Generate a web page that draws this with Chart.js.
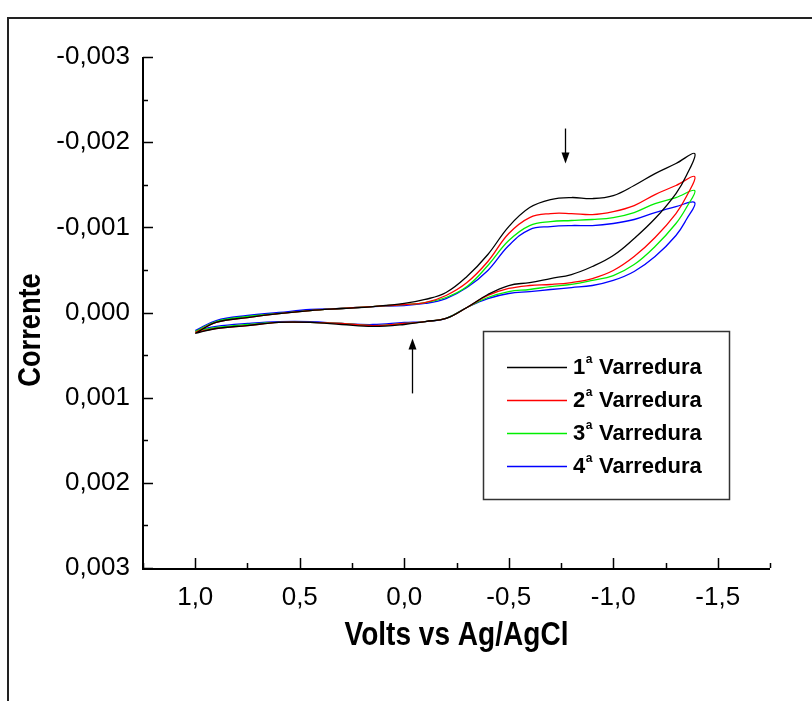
<!DOCTYPE html>
<html>
<head>
<meta charset="utf-8">
<script src="https://cdn.jsdelivr.net/npm/chart.js@4.4.1/dist/chart.umd.min.js"></script>
<style>
  html, body { margin: 0; padding: 0; background: #fff; }
  #wrap { width: 812px; height: 701px; position: relative; }
</style>
</head>
<body>
<div id="wrap"><canvas id="cvChart" width="812" height="701"></canvas></div>
<script>
// potential (V vs Ag/AgCl): forward scan 1.0 -> -1.39, then back to 1.0
const potentials = [
    1.0, 0.9, 0.75, 0.6, 0.45, 0.3, 0.15, 0.0, -0.1, -0.2, -0.3,
    -0.4, -0.5, -0.6, -0.7, -0.8, -0.9, -1.0, -1.1, -1.2, -1.3, -1.39,
    -1.35, -1.3, -1.2, -1.1, -1.0, -0.9, -0.8, -0.7, -0.6, -0.5, -0.4,
    -0.3, -0.2, -0.1, 0.0, 0.15, 0.3, 0.45, 0.6, 0.75, 0.9, 1.0
];

// current (A), one array per sweep
const sweep1 = [
    0.000246, 0.000117, 0.000059, 0.000012, -0.000023, -0.000047, -0.000070, -0.000106, -0.000153, -0.000235, -0.000423,
    -0.000681, -0.001009, -0.001232, -0.001326, -0.001350, -0.001338, -0.001373, -0.001491, -0.001631, -0.001749, -0.001866,
    -0.001608, -0.001397, -0.001103, -0.000869, -0.000669, -0.000540, -0.000446, -0.000399, -0.000352, -0.000317, -0.000211,
    -0.000059, 0.000070, 0.000106, 0.000141, 0.000164, 0.000141, 0.000117, 0.000117, 0.000153, 0.000188, 0.000246
];
const sweep2 = [
    0.000235, 0.000117, 0.000059, 0.000012, -0.000023, -0.000047, -0.000070, -0.000094, -0.000117, -0.000200, -0.000352,
    -0.000599, -0.000927, -0.001115, -0.001162, -0.001162, -0.001150, -0.001185, -0.001256, -0.001385, -0.001491, -0.001596,
    -0.001362, -0.001162, -0.000880, -0.000657, -0.000493, -0.000399, -0.000352, -0.000329, -0.000317, -0.000282, -0.000200,
    -0.000059, 0.000070, 0.000106, 0.000129, 0.000153, 0.000129, 0.000117, 0.000117, 0.000153, 0.000188, 0.000235
];
const sweep3 = [
    0.000223, 0.000106, 0.000047, 0.000012, -0.000023, -0.000047, -0.000070, -0.000094, -0.000117, -0.000176, -0.000305,
    -0.000552, -0.000845, -0.001021, -0.001068, -0.001080, -0.001092, -0.001115, -0.001174, -0.001279, -0.001350, -0.001432,
    -0.001232, -0.001045, -0.000775, -0.000563, -0.000434, -0.000376, -0.000329, -0.000305, -0.000270, -0.000246, -0.000176,
    -0.000059, 0.000070, 0.000106, 0.000129, 0.000153, 0.000129, 0.000117, 0.000117, 0.000141, 0.000176, 0.000223
];
const sweep4 = [
    0.000211, 0.000094, 0.000035, 0.000000, -0.000035, -0.000047, -0.000070, -0.000082, -0.000106, -0.000164, -0.000293,
    -0.000493, -0.000786, -0.000974, -0.001009, -0.001021, -0.001021, -0.001045, -0.001092, -0.001174, -0.001244, -0.001291,
    -0.001092, -0.000904, -0.000657, -0.000481, -0.000376, -0.000317, -0.000293, -0.000270, -0.000246, -0.000223, -0.000164,
    -0.000059, 0.000070, 0.000106, 0.000117, 0.000141, 0.000129, 0.000106, 0.000106, 0.000129, 0.000164, 0.000211
];

const sweepNumbers = ["1", "2", "3", "4"];
const sweepColors = ["#000000", "#ff0000", "#00ee00", "#0000ff"];

// axis ranges and tick labels
const xMin = -1.75, xMax = 1.25;
const xTicks = [1.0, 0.5, 0.0, -0.5, -1.0, -1.5];
const yMin = -0.003, yMax = 0.003;
const yTicks = [-0.003, -0.002, -0.001, 0.0, 0.001, 0.002, 0.003];

// arrows marking the peaks, in data units
const arrows = [
    { x: -0.77, from: -0.00216, to: -0.00175 },
    { x: -0.035, from: 0.00095, to: 0.000305 }
];

const font = "'Liberation Sans', Arial, sans-serif";

function toPoints(values)
{
    return values.map((v, i) => ({ x: potentials[i], y: v }));
}

function commaNumber(v, digits)
{
    if (Math.abs(v) < 1e-9) v = 0;
    return v.toFixed(digits).replace(".", ",");
}

function drawSqueezedText(ctx, text, x, y, sx, angle)
{
    ctx.save();
    ctx.translate(x, y);
    if (angle) ctx.rotate(angle);
    ctx.scale(sx, 1);
    ctx.fillText(text, 0, 0);
    ctx.restore();
}

// minor ticks halfway between the majors, plus one past each end
function minorValues(majors, lo, hi)
{
    const half = Math.abs(majors[1] - majors[0]) / 2;
    const out = [];
    const first = Math.min(...majors) - half;
    for (let v = first; v <= hi + 1e-9; v += 2 * half)
    {
        if (v >= lo - 1e-9) out.push(v);
    }
    return out;
}

const decorations = {
    id: "decorations",
    afterDraw(chart)
    {
        const ctx = chart.ctx;
        const area = chart.chartArea;
        const xs = chart.scales.x;
        const ys = chart.scales.y;

        ctx.save();

        // outer frame (cut by the picture edges)
        ctx.strokeStyle = "#222";
        ctx.lineWidth = 2;
        ctx.beginPath();
        ctx.moveTo(8, 701);
        ctx.lineTo(8, 18);
        ctx.lineTo(812, 18);
        ctx.stroke();

        // axis lines
        ctx.strokeStyle = "#000";
        ctx.lineWidth = 2;
        ctx.beginPath();
        ctx.moveTo(area.left, area.top);
        ctx.lineTo(area.left, area.bottom + 1);
        ctx.lineTo(area.right, area.bottom + 1);
        ctx.stroke();

        // inward ticks
        ctx.lineWidth = 1.5;
        ctx.beginPath();
        ys.ticks.forEach(t =>
        {
            const py = Math.round(ys.getPixelForValue(t.value)) + 0.5;
            ctx.moveTo(area.left, py);
            ctx.lineTo(area.left + 10, py);
        });
        minorValues(yTicks, yMin, yMax).forEach(v =>
        {
            const py = Math.round(ys.getPixelForValue(v)) + 0.5;
            ctx.moveTo(area.left, py);
            ctx.lineTo(area.left + 5, py);
        });
        xs.ticks.forEach(t =>
        {
            const px = Math.round(xs.getPixelForValue(t.value)) + 0.5;
            ctx.moveTo(px, area.bottom);
            ctx.lineTo(px, area.bottom - 10);
        });
        minorValues(xTicks, xMin, xMax).forEach(v =>
        {
            const px = Math.round(xs.getPixelForValue(v)) + 0.5;
            ctx.moveTo(px, area.bottom);
            ctx.lineTo(px, area.bottom - 5);
        });
        ctx.stroke();

        // axis titles
        ctx.fillStyle = "#000";
        ctx.textAlign = "center";
        ctx.textBaseline = "middle";
        ctx.font = "bold 33px " + font;
        drawSqueezedText(ctx, "Volts vs Ag/AgCl", (area.left + area.right) / 2, 636, 0.85, 0);
        ctx.font = "bold 32px " + font;
        drawSqueezedText(ctx, "Corrente", 31, 330, 0.85, -Math.PI / 2);

        // arrows
        ctx.strokeStyle = "#000";
        ctx.lineWidth = 1.3;
        arrows.forEach(a =>
        {
            const px = Math.round(xs.getPixelForValue(a.x)) + 0.5;
            const p1 = ys.getPixelForValue(a.from);
            const p2 = ys.getPixelForValue(a.to);
            const dir = p2 > p1 ? 1 : -1;
            ctx.beginPath();
            ctx.moveTo(px, p1);
            ctx.lineTo(px, p2 - dir * 6);
            ctx.stroke();
            ctx.beginPath();
            ctx.moveTo(px, p2);
            ctx.lineTo(px - 4, p2 - dir * 11);
            ctx.lineTo(px + 4, p2 - dir * 11);
            ctx.closePath();
            ctx.fill();
        });

        // legend box
        const box = { left: 483, top: 331, width: 246, height: 168 };
        ctx.strokeStyle = "#333";
        ctx.lineWidth = 1.5;
        ctx.strokeRect(box.left + 0.5, box.top + 0.5, box.width, box.height);
        ctx.textAlign = "left";
        sweepNumbers.forEach((n, i) =>
        {
            const rowY = box.top + 36 + i * 33;
            ctx.strokeStyle = sweepColors[i];
            ctx.lineWidth = 1.5;
            ctx.beginPath();
            ctx.moveTo(box.left + 24, rowY + 0.5);
            ctx.lineTo(box.left + 84, rowY + 0.5);
            ctx.stroke();

            let tx = box.left + 90;
            ctx.fillStyle = "#000";
            ctx.font = "bold 22px " + font;
            ctx.fillText(n, tx, rowY + 1);
            tx += ctx.measureText(n).width;
            ctx.font = "bold 12px " + font;
            ctx.fillText("a", tx + 0.5, rowY - 7);
            tx += ctx.measureText("a").width + 1;
            ctx.font = "bold 22px " + font;
            ctx.fillText(" Varredura", tx, rowY + 1);
        });

        ctx.restore();
    }
};

const chart = new Chart(
    document.getElementById("cvChart"),
    {
        type: "line",
        data: {
            datasets: [sweep1, sweep2, sweep3, sweep4].map((s, i) => ({
                label: sweepNumbers[i] + "ª Varredura",
                data: toPoints(s),
                borderColor: sweepColors[i],
                borderWidth: 1.3,
                pointRadius: 0,
                tension: 0.4,
                fill: false
            }))
        },
        options: {
            responsive: false,
            animation: false,
            layout: { padding: { left: 0, top: 57, right: 42, bottom: 0 } },
            plugins: {
                legend: { display: false },
                tooltip: { enabled: false }
            },
            scales: {
                x: {
                    type: "linear",
                    reverse: true,
                    min: xMin,
                    max: xMax,
                    grid: { display: false, drawTicks: false },
                    border: { display: false },
                    afterBuildTicks: s => { s.ticks = xTicks.map(v => ({ value: v })); },
                    ticks: {
                        maxRotation: 0,
                        autoSkip: false,
                        padding: 14,
                        color: "#000",
                        font: { family: font, size: 26 },
                        callback: v => commaNumber(v, 1)
                    },
                    afterFit: s => { s.height = 701 - 568; }
                },
                y: {
                    type: "linear",
                    reverse: true,
                    min: yMin,
                    max: yMax,
                    grid: { display: false, drawTicks: false },
                    border: { display: false },
                    afterBuildTicks: s => { s.ticks = yTicks.map(v => ({ value: v })); },
                    ticks: {
                        autoSkip: false,
                        padding: 13,
                        color: "#000",
                        font: { family: font, size: 26 },
                        callback: v => commaNumber(v, 3)
                    },
                    afterFit: s => { s.width = 143; }
                }
            }
        },
        plugins: [decorations]
    }
);
</script>
</body>
</html>
